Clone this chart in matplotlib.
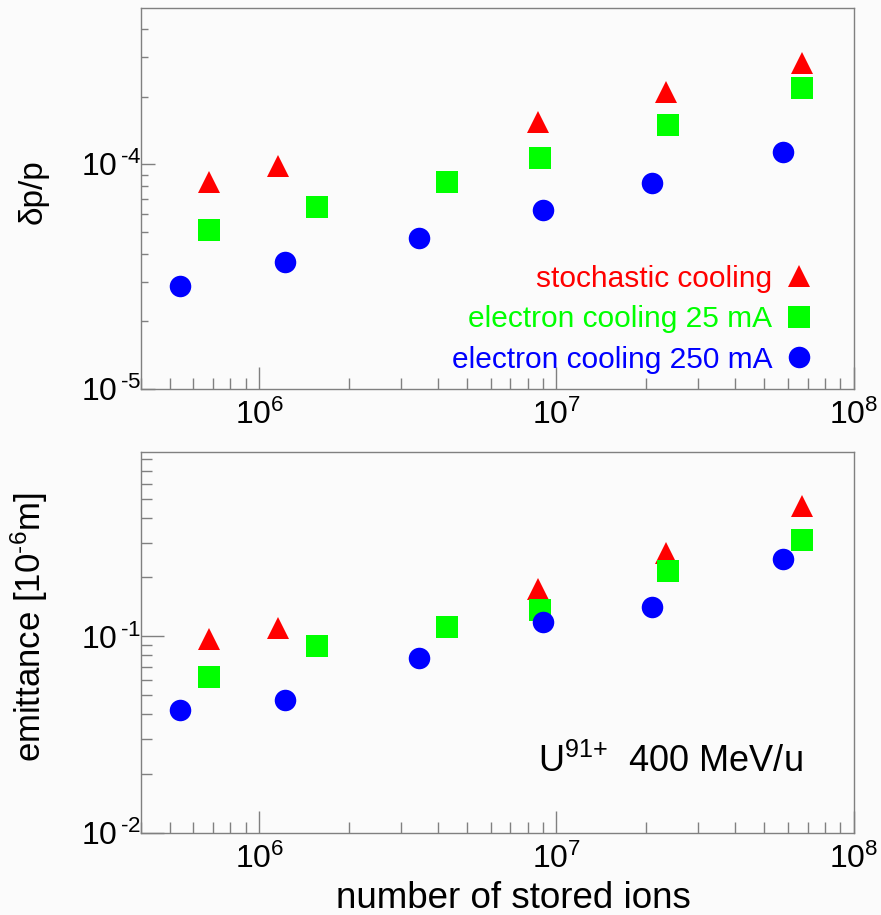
import math
import matplotlib
matplotlib.use('Agg')
import matplotlib.pyplot as plt
from matplotlib.ticker import LogLocator, FuncFormatter, NullFormatter

plt.rcParams['font.family'] = ['Liberation Sans', 'DejaVu Sans']
plt.rcParams['mathtext.fontset'] = 'custom'
plt.rcParams['mathtext.rm'] = 'Liberation Sans'
plt.rcParams['mathtext.it'] = 'Liberation Sans:italic'
plt.rcParams['mathtext.bf'] = 'Liberation Sans:bold'

# number of stored ions
n_stoch = [6.8e5, 1.16e6, 8.7e6, 2.33e7, 6.7e7]
n_ec25 = [6.8e5, 1.57e6, 4.27e6, 8.83e6, 2.37e7, 6.68e7]
n_ec250 = [5.42e5, 1.22e6, 3.46e6, 9.04e6, 2.09e7, 5.77e7]

# momentum spread dp/p
dp_stoch = [8.3e-5, 9.8e-5, 1.54e-4, 2.09e-4, 2.81e-4]
dp_ec25 = [5.09e-5, 6.44e-5, 8.3e-5, 1.07e-4, 1.49e-4, 2.18e-4]
dp_ec250 = [2.87e-5, 3.67e-5, 4.69e-5, 6.24e-5, 8.23e-5, 1.13e-4]

# emittance [1e-6 m]
em_stoch = [0.0966, 0.111, 0.174, 0.265, 0.46]
em_ec25 = [0.062, 0.089, 0.112, 0.136, 0.215, 0.31]
em_ec250 = [0.042, 0.0473, 0.0773, 0.119, 0.141, 0.249]

labels = ['stochastic cooling', 'electron cooling 25 mA', 'electron cooling 250 mA']
red, green, blue = '#ff0000', '#00ff00', '#0000ff'
bg = '#fbfbfb'


def exp_fmt(v, pos):
    e = int(round(math.log10(v)))
    if e < 0:
        # short hyphen like the original, small gap before the exponent
        return '$\\mathregular{10^{\\,\u2010%d}}$' % (-e)
    return r'$\mathregular{10^{%d}}$' % e


fig = plt.figure(figsize=(8.81, 9.15), dpi=100, facecolor=bg)
ax1 = fig.add_axes([0.160, 0.575, 0.809, 0.416])
ax2 = fig.add_axes([0.160, 0.090, 0.809, 0.416])

ms = 15.5
for ax, ys, ylim, ymaj, ymin in [
        (ax1, (dp_stoch, dp_ec25, dp_ec250), (1e-5, 4.95e-4), 10, 5),
        (ax2, (em_stoch, em_ec25, em_ec250), (1e-2, 0.87), 16.5, 8)]:
    ax.set_facecolor(bg)
    ax.plot(n_stoch, ys[0], '^', color=red, ms=ms, mew=0, label=labels[0])
    ax.plot(n_ec25, ys[1], 's', color=green, ms=ms, mew=0, label=labels[1])
    ax.plot(n_ec250, ys[2], 'o', color=blue, ms=ms, mew=0, label=labels[2])
    ax.set_xscale('log')
    ax.set_yscale('log')
    ax.set_xlim(4e5, 1e8)
    ax.set_ylim(*ylim)
    for s in ax.spines.values():
        s.set_color('#808080')
        s.set_linewidth(1.0)
    ax.xaxis.set_major_locator(LogLocator(base=10))
    ax.xaxis.set_minor_locator(LogLocator(base=10, subs=range(2, 10)))
    ax.yaxis.set_major_locator(LogLocator(base=10))
    ax.yaxis.set_minor_locator(LogLocator(base=10, subs=range(2, 10)))
    ax.xaxis.set_major_formatter(FuncFormatter(exp_fmt))
    ax.yaxis.set_major_formatter(FuncFormatter(exp_fmt))
    ax.xaxis.set_minor_formatter(NullFormatter())
    ax.yaxis.set_minor_formatter(NullFormatter())
    ax.tick_params(axis='x', which='major', direction='in', length=16, width=1,
                   color='#808080', labelsize=23, pad=8)
    ax.tick_params(axis='x', which='minor', direction='in', length=8, width=1,
                   color='#808080')
    ax.tick_params(axis='y', which='major', direction='in', length=ymaj, width=1,
                   color='#808080', labelsize=23, pad=0)
    ax.tick_params(axis='y', which='minor', direction='in', length=ymin, width=1,
                   color='#808080')

ax1.set_ylabel('δp/p', fontsize=24)
ax2.set_ylabel('emittance [10$^{\\mathregular{\u20106}}$m]', fontsize=25)
ax2.set_xlabel('number of stored ions', fontsize=26.5)
ax1.yaxis.set_label_coords(-0.130, 0.517)
ax2.yaxis.set_label_coords(-0.128, 0.54)
ax2.xaxis.set_label_coords(0.523, -0.128)

ax1.legend(loc='lower right', bbox_to_anchor=(0.957, 0.008), markerfirst=False,
           frameon=False, fontsize=21.5, labelcolor='markerfacecolor',
           handlelength=0.8, handletextpad=0.5, labelspacing=0.42,
           borderaxespad=0)

ax2.text(0.928, 0.16, r'U$^{\mathregular{91{+}}}$  400 MeV/u', transform=ax2.transAxes,
         fontsize=26, ha='right', va='baseline')

fig.savefig('out.png', dpi=100, facecolor=bg)
